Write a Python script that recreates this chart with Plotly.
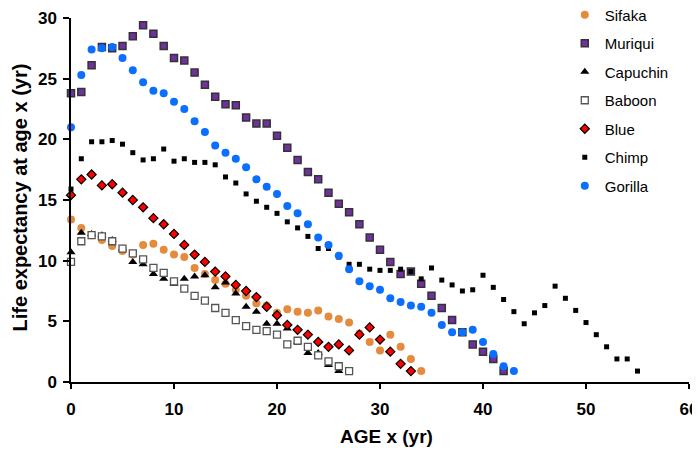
import plotly.graph_objects as go

sifaka = [13.4, 12.7, 12.1, 11.7, 11.2, 10.8, 10.5, 11.3, 11.4, 10.9, 10.5, 10.3, 9.4, 8.9, 8.4, 8.1,
          7.6, 7.1, 6.5, 6.3, 5.7, 6.0, 5.8, 5.7, 5.9, 5.4, 5.2, 4.9, 4.0, 3.3, 2.6, 3.9, 2.9, 1.9, 0.9]
muriqui = [23.8, 23.9, 26.1, 27.6, 27.5, 27.7, 28.5, 29.4, 28.7, 27.7, 26.7, 26.5, 25.5, 24.5, 23.5,
           22.9, 22.8, 21.8, 21.3, 21.3, 20.3, 19.3, 18.3, 17.3, 16.7, 15.6, 14.7, 14.0, 13.0, 11.9,
           10.9, 9.9, 8.9, 9.1, 8.1, 7.1, 6.1, 5.1, 4.1, 3.1, 2.5, 1.9, 0.9]
capuchin = [10.7, 12.3, 12.2, 12.1, 11.7, 11.0, 9.9, 9.7, 8.9, 8.5, 8.1, 8.5, 8.7, 8.8, 7.8, 8.2,
            7.3, 6.2, 5.8, 4.8, 4.8, 4.4, 3.3, 2.4, 2.4, 1.4, 0.9]
baboon = [9.9, 11.6, 12.1, 12.0, 11.6, 11.0, 10.6, 10.1, 9.4, 9.0, 8.3, 7.7, 7.1, 6.7, 6.1, 5.7,
          5.1, 4.6, 4.3, 4.2, 3.9, 3.1, 3.4, 2.9, 2.2, 1.7, 1.3, 0.9]
blue = [15.4, 16.7, 17.1, 16.2, 16.3, 15.6, 15.0, 14.4, 13.5, 13.0, 12.2, 11.3, 10.5, 9.9, 9.1, 8.7,
        8.0, 7.5, 7.0, 6.2, 5.5, 4.7, 4.3, 3.9, 3.3, 2.9, 3.1, 2.6, 3.9, 4.5, 3.5, 2.5, 1.5, 0.9]
chimp = [15.9, 18.4, 19.8, 19.8, 19.9, 19.6, 18.9, 18.3, 18.4, 19.2, 18.2, 18.4, 18.1, 18.1, 17.9,
         16.9, 16.4, 15.5, 14.9, 14.4, 13.9, 13.2, 12.7, 12.0, 11.0, 11.0, 10.3, 9.7, 9.7, 9.3, 9.2,
         9.2, 9.3, 9.1, 8.5, 9.4, 8.4, 8.0, 7.5, 7.6, 8.8, 7.8, 6.8, 5.8, 4.8, 5.7, 6.3, 7.9, 6.9,
         5.9, 4.9, 3.9, 2.9, 1.9, 1.9, 0.9]
gorilla = [21.0, 25.3, 27.4, 27.5, 27.6, 26.7, 25.7, 24.7, 24.0, 23.8, 23.1, 22.5, 21.5, 20.6, 19.5,
           18.9, 18.4, 17.7, 16.7, 16.1, 15.5, 14.5, 13.9, 13.0, 11.9, 11.3, 10.4, 9.3, 8.3, 7.9,
           7.6, 6.9, 6.6, 6.3, 6.2, 5.7, 4.7, 4.1, 4.1, 4.3, 3.3, 2.3, 1.3, 0.9]

x_ticks = [0, 10, 20, 30, 40, 50, 60]
y_ticks = [0, 5, 10, 15, 20, 25, 30]

series = [
    ("Sifaka", sifaka, dict(symbol="circle", size=8, color="#E58B3E", line=dict(width=0))),
    ("Muriqui", muriqui, dict(symbol="square", size=7, color="#7030A0", line=dict(width=1.5, color="#333333"))),
    ("Capuchin", capuchin, dict(symbol="triangle-up", size=8, color="#000000", line=dict(width=0))),
    ("Baboon", baboon, dict(symbol="square", size=7, color="#FFFFFF", line=dict(width=1.3, color="#555555"))),
    ("Blue", blue, dict(symbol="diamond", size=7, color="#FF0000", line=dict(width=1.2, color="#000000"))),
    ("Chimp", chimp, dict(symbol="square", size=5, color="#000000", line=dict(width=0))),
    ("Gorilla", gorilla, dict(symbol="circle", size=8, color="#0A6EFF", line=dict(width=0))),
]

fig = go.Figure()
for name, vals, mk in series:
    fig.add_trace(go.Scatter(
        x=list(range(len(vals))), y=vals, mode="markers", name=name,
        marker=mk, cliponaxis=False, legendgroup=name,
    ))

tick_font = dict(family="Liberation Sans, Arial", size=17, color="#000000")

fig.update_layout(
    width=692, height=442,
    margin=dict(l=63, r=11, t=10, b=68, autoexpand=False),
    plot_bgcolor="white", paper_bgcolor="white",
    showlegend=True,
    legend=dict(
        x=0.799, y=1.0536, xanchor="left", yanchor="top",
        font=dict(family="Liberation Sans, Arial", size=15, color="#000000"),
        bgcolor="rgba(0,0,0,0)", tracegroupgap=6, itemsizing="trace",
    ),
    xaxis=dict(
        range=[0, 60], tickvals=x_ticks, ticktext=[f"<b>{v}</b>" for v in x_ticks],
        showline=True, linecolor="#000000", linewidth=1.5,
        ticks="outside", ticklen=5, tickcolor="#000000", tickwidth=1.5,
        ticklabelstandoff=6, ticklabeloverflow="allow",
        showgrid=False, zeroline=False, tickfont=tick_font, automargin=False,
    ),
    yaxis=dict(
        range=[0, 30], tickvals=y_ticks, ticktext=[f"<b>{v}</b>" for v in y_ticks],
        showline=True, linecolor="#000000", linewidth=1.5,
        ticks="outside", ticklen=6, tickcolor="#000000", tickwidth=1.5,
        ticklabelstandoff=3, ticklabeloverflow="allow",
        showgrid=False, zeroline=False, tickfont=tick_font, automargin=False,
    ),
    annotations=[
        dict(text="<b>AGE x (yr)</b>", xref="paper", yref="paper", x=0.51, y=-0.151,
             xanchor="center", yanchor="middle", showarrow=False,
             font=dict(family="Liberation Sans, Arial", size=19, color="#000000")),
        dict(text="<b>Life expectancy at age x (yr)</b>", xref="paper", yref="paper",
             x=-0.0825, y=0.507, xanchor="center", yanchor="middle", textangle=-90,
             showarrow=False,
             font=dict(family="Liberation Sans, Arial", size=20, color="#000000")),
    ],
)

fig.write_html("out.html")
